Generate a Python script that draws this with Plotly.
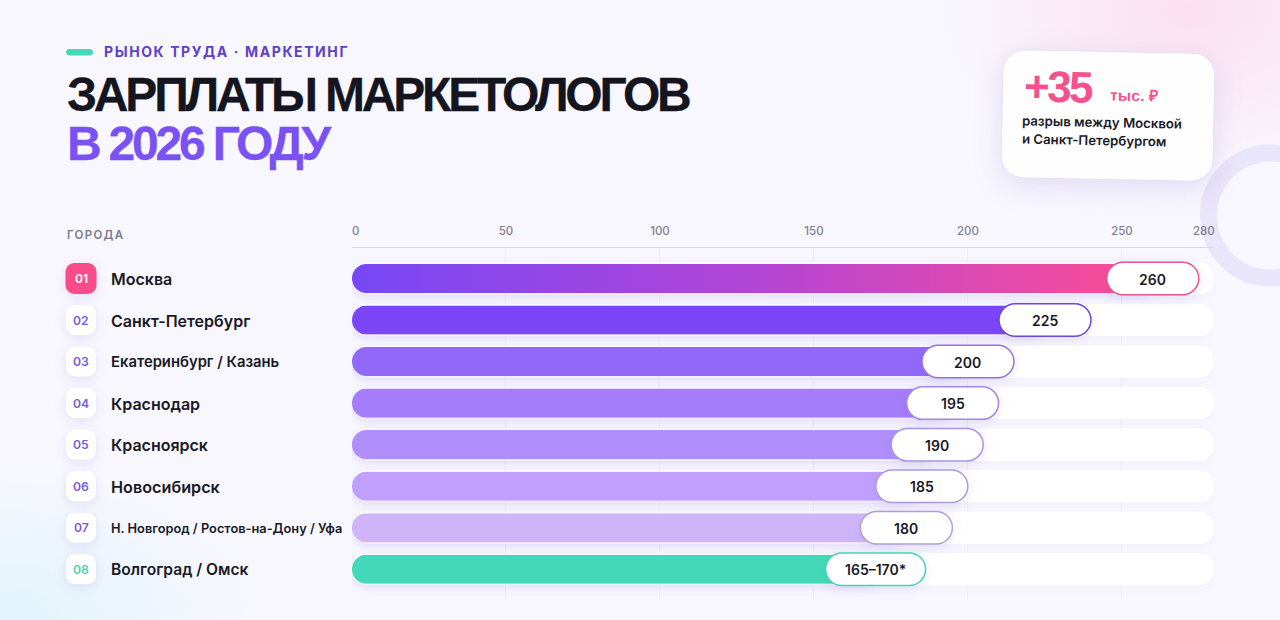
import json
import math
import plotly.graph_objects as go

W, H = 1280, 620

# --- data ---
ranks = ["01", "02", "03", "04", "05", "06", "07", "08"]
cities = ["Москва", "Санкт-Петербург", "Екатеринбург / Казань", "Краснодар", "Красноярск",
          "Новосибирск", "Н. Новгород / Ростов-на-Дону / Уфа", "Волгоград / Омск"]
salaries = [260, 225, 200, 195, 190, 185, 180, 170]
value_labels = ["260", "225", "200", "195", "190", "185", "180", "165–170*"]
tick_values = [0, 50, 100, 150, 200, 250, 280]
axis_max = [280] * len(cities)

# --- styles ---
bar_colors = ["#7a48f6", "#7c45f8", "#9268f8", "#a57cfa", "#b08ffb", "#c19ffd", "#cfb5f8", "#43d9b8"]
pill_lines = ["#e8568c", "#6b47e0", "#9272e6", "#a286e8", "#a994e6", "#ac9ae0", "#ae9fdc", "#46d3b4"]
pill_widths = [92, 92, 92, 92, 92, 92, 92, 100]
label_sizes = [16, 16, 14.8, 16, 16, 16.2, 12.8, 15.6]
rank_colors = ["#ffffff", "#7a5cd8", "#7a5cd8", "#7a5cd8", "#7a5cd8", "#7a5cd8", "#7a5cd8", "#50d2aa"]
INK = "#191926"
VIOLET = "#7a52f4"
PINK = "#f4528f"
FONT = "Inter"
HEAD = "Liberation Sans"

X0, X1 = 352, 1213.6
Y0, Y1 = 247.5, 600
K = 0.5523


def px(x):
    return x / W


def py(y):
    return 1 - y / H


def rr_points(x0, y0, x1, y1, r):
    """Rounded rectangle as an SVG path command list in pixel space."""
    c = r * (1 - K)
    return [
        ("M", (x0 + r, y0)), ("L", (x1 - r, y0)),
        ("C", (x1 - c, y0), (x1, y0 + c), (x1, y0 + r)), ("L", (x1, y1 - r)),
        ("C", (x1, y1 - c), (x1 - c, y1), (x1 - r, y1)), ("L", (x0 + r, y1)),
        ("C", (x0 + c, y1), (x0, y1 - c), (x0, y1 - r)), ("L", (x0, y0 + r)),
        ("C", (x0, y0 + c), (x0 + c, y0), (x0 + r, y0)),
    ]


def to_path(cmds, fn):
    out = []
    for c in cmds:
        pts = " ".join("%.5f,%.5f" % fn(*p) for p in c[1:])
        out.append(c[0] + pts)
    return " ".join(out) + " Z"


def rr_paper(x0, y0, x1, y1, r, angle=0.0):
    cx, cy = (x0 + x1) / 2, (y0 + y1) / 2
    a = math.radians(angle)

    def fn(x, y):
        dx, dy = x - cx, y - cy
        return px(cx + dx * math.cos(a) - dy * math.sin(a)), py(cy + dx * math.sin(a) + dy * math.cos(a))

    return to_path(rr_points(x0, y0, x1, y1, r), fn)


def rr_anchor(w, h, r):
    return to_path(rr_points(-w / 2, -h / 2, w / 2, h / 2, r), lambda x, y: (x, y))


fig = go.Figure()
fig.add_bar(y=cities, x=axis_max, orientation="h", width=0.79, showlegend=False, hoverinfo="skip",
            marker=dict(color="rgba(255,255,255,0.92)", cornerradius=15, line_width=0))
fig.add_bar(y=cities, x=salaries, orientation="h", width=0.70, showlegend=False,
            marker=dict(color=bar_colors, cornerradius=14.5, line_width=0))

shapes, annos, shadows, spacing, strokes = [], [], {}, {}, {}


def add_shape(shadow=None, **kw):
    shapes.append(kw)
    if shadow:
        shadows[len(shapes) - 1] = shadow


def add_text(text, x, y, size, color, weight=700, family=FONT, ls=None, xanchor="left", angle=0,
             xref="paper", yref="paper", stroke=None, yshift=0):
    annos.append(dict(text=text, x=px(x) if xref == "paper" else x, y=py(y) if yref == "paper" else y,
                      xref=xref, yref=yref, xanchor=xanchor, yanchor="middle", align=xanchor if xanchor != "middle" else "center",
                      showarrow=False, textangle=angle, borderpad=0, yshift=yshift,
                      font=dict(family=family, size=size, color=color, weight=weight)))
    if ls is not None:
        spacing[len(annos) - 1] = ls
    if stroke is not None:
        strokes[len(annos) - 1] = stroke


# ring + card
add_shape(type="circle", xref="paper", yref="paper", layer="below", x0=px(1208.5), x1=px(1332.5), y0=py(278), y1=py(153),
          line=dict(color="#e9e5fa", width=17), fillcolor="rgba(0,0,0,0)")
add_shape(type="path", xref="paper", yref="paper", layer="above", path=rr_paper(1002, 51.5, 1214, 179.5, 22, 1.15),
          fillcolor="#fefeff", line=dict(color="#e4e0f3", width=1), shadow="0 8px 14px rgba(110,90,190,.16)")
# teal pill of eyebrow
add_shape(type="path", xref="paper", yref="paper", layer="above", path=rr_paper(66, 49, 93, 55.5, 3.2),
          fillcolor="#43d9b8", line_width=0)

# rank badges + value pills
for i, (rank, name, val, vlab) in enumerate(zip(ranks, cities, salaries, value_labels)):
    size = 31 if i == 0 else 30
    add_shape(type="path", layer="above", xref="paper", yref="y", xsizemode="pixel", ysizemode="pixel",
              xanchor=px(81), yanchor=i, path=rr_anchor(size, size, 9),
              fillcolor="#fb4b8b" if i == 0 else "#ffffff", line_width=0, shadow="0 3px 6px rgba(110,90,190,.14)")
    add_shape(type="path", layer="above", xref="x", yref="y", xsizemode="pixel", ysizemode="pixel",
              xanchor=val, yanchor=i, path=rr_anchor(pill_widths[i], 32.5, 16.25),
              fillcolor="#ffffff", line=dict(color=pill_lines[i], width=1.5), shadow="0 3px 6px rgba(110,90,190,.12)")
    add_text(rank, 81, i, 12.2, rank_colors[i], 600, xanchor="center", yref="y")
    add_text(name, 110, i, label_sizes[i], INK, 600, yref="y", yshift=-0.6)
    add_text(vlab, val, i, 14, INK, 600, xanchor="center", xref="x", yref="y", yshift=-0.6)

add_text("РЫНОК ТРУДА · МАРКЕТИНГ", 103, 51.5, 14, "#5f3fc8", 700, ls="1.6px")
add_text("ЗАРПЛАТЫ МАРКЕТОЛОГОВ", 65.5, 95, 48, "#15151f", 700, HEAD, ls="-3.2px", stroke="0.3px")
add_text("В 2026 ГОДУ", 65.5, 143, 48, VIOLET, 700, HEAD, ls="-3.2px", stroke="0.3px")
add_text("ГОРОДА", 65.5, 235, 11.5, "#7b7b8c", 600, ls="1.3px")
add_text("0", 355, 230.5, 11.5, "#7f7f90", 500, xanchor="center")
add_text("280", 1204, 230.5, 11.5, "#7f7f90", 500, xanchor="center")
add_text("+35", 1022.5, 86.5, 44, PINK, 700, HEAD, ls="-2.5px", angle=1.15)
add_text("тыс. ₽", 1109, 96, 15.5, PINK, 700, HEAD, ls="0.3px", angle=1.15)
add_text("разрыв между Москвой", 1021, 122, 13.2, INK, 600, angle=1.15)
add_text("и Санкт-Петербургом", 1021, 139.5, 13.2, INK, 600, angle=1.15)

tick_text = [str(v) if v not in (tick_values[0], tick_values[-1]) else "" for v in tick_values]

fig.update_layout(
    width=W, height=H, autosize=False, margin=dict(l=0, r=0, t=0, b=0, pad=0),
    paper_bgcolor="rgba(0,0,0,0)", plot_bgcolor="rgba(0,0,0,0)", barmode="overlay",
    shapes=shapes, annotations=annos, showlegend=False,
    xaxis=dict(domain=[X0 / W, X1 / W], range=[0, 279.75], side="top", tickmode="array", tickvals=tick_values,
               ticktext=tick_text, ticks="outside", ticklen=7, tickcolor="rgba(0,0,0,0)",
               tickfont=dict(family=FONT, size=11.5, color="#7f7f90", weight=500),
               showline=True, linecolor="#d9d8e6", linewidth=1,
               showgrid=True, gridcolor="#eeedf6", gridwidth=1, zeroline=False, fixedrange=True),
    yaxis=dict(domain=[1 - Y1 / H, 1 - Y0 / H], type="category", categoryorder="array", categoryarray=cities,
               range=[7.74, -0.746], showticklabels=False, showgrid=False, zeroline=False,
               showline=False, ticks="", fixedrange=True),
)

post = """
(function () {
  var gd = document.getElementById('{plot_id}');
  var SHADOWS = %s, SPACING = %s, STROKES = %s;
  document.documentElement.style.height = '100%%';
  document.body.style.margin = '0';
  document.body.style.overflow = 'hidden';
  document.body.style.background =
    'radial-gradient(ellipse 250px 170px at 1190px 10px, rgba(255,208,230,.6), rgba(255,208,230,0)),' +
    'radial-gradient(ellipse 260px 150px at 0px 620px, rgba(214,242,250,.7), rgba(214,242,250,0)),' +
    '#f8f7fe';
  function apply() {
    var svg = gd.querySelector('svg.main-svg');
    var defs = svg.querySelector('defs');
    if (!document.getElementById('moscow-grad')) {
      var NS = 'http://www.w3.org/2000/svg';
      var g = document.createElementNS(NS, 'linearGradient');
      g.setAttribute('id', 'moscow-grad');
      [['0', '#7748f6'], ['0.5', '#b245d6'], ['1', '#ff4d93']].forEach(function (s) {
        var st = document.createElementNS(NS, 'stop');
        st.setAttribute('offset', s[0]);
        st.setAttribute('stop-color', s[1]);
        g.appendChild(st);
      });
      defs.appendChild(g);
    }
    var traces = gd.querySelectorAll('.barlayer .trace');
    traces.forEach(function (tr, t) {
      tr.querySelectorAll('.point').forEach(function (pt, i) {
        var p = pt.querySelector('path');
        p.style.clipPath = t === 0 ? 'inset(0 round 15px)' : 'inset(0 round 14.5px)';
        pt.style.filter = t === 0 ? 'drop-shadow(0 2px 4px rgba(120,100,200,.05))' : 'drop-shadow(0 3px 5px rgba(120,90,220,.16))';
        if (t === 1 && i === 0) { p.style.fill = 'url(#moscow-grad)'; }
      });
    });
    Object.keys(SHADOWS).forEach(function (k) {
      gd.querySelectorAll('.shapelayer path[data-index="' + k + '"]').forEach(function (p) {
        p.style.filter = 'drop-shadow(' + SHADOWS[k] + ')';
      });
    });
    Object.keys(SPACING).forEach(function (k) {
      var t = gd.querySelector('.annotation[data-index="' + k + '"] text');
      if (t) { t.style.letterSpacing = SPACING[k]; }
    });
    Object.keys(STROKES).forEach(function (k) {
      var t = gd.querySelector('.annotation[data-index="' + k + '"] text');
      if (t) { t.style.stroke = t.style.fill; t.style.strokeWidth = STROKES[k]; }
    });
  }
  apply();
  gd.on('plotly_afterplot', apply);
  requestAnimationFrame(apply);
})();
""" % (json.dumps(shadows), json.dumps(spacing), json.dumps(strokes))

fig.write_html("out.html", config={"displayModeBar": False}, post_script=post)
